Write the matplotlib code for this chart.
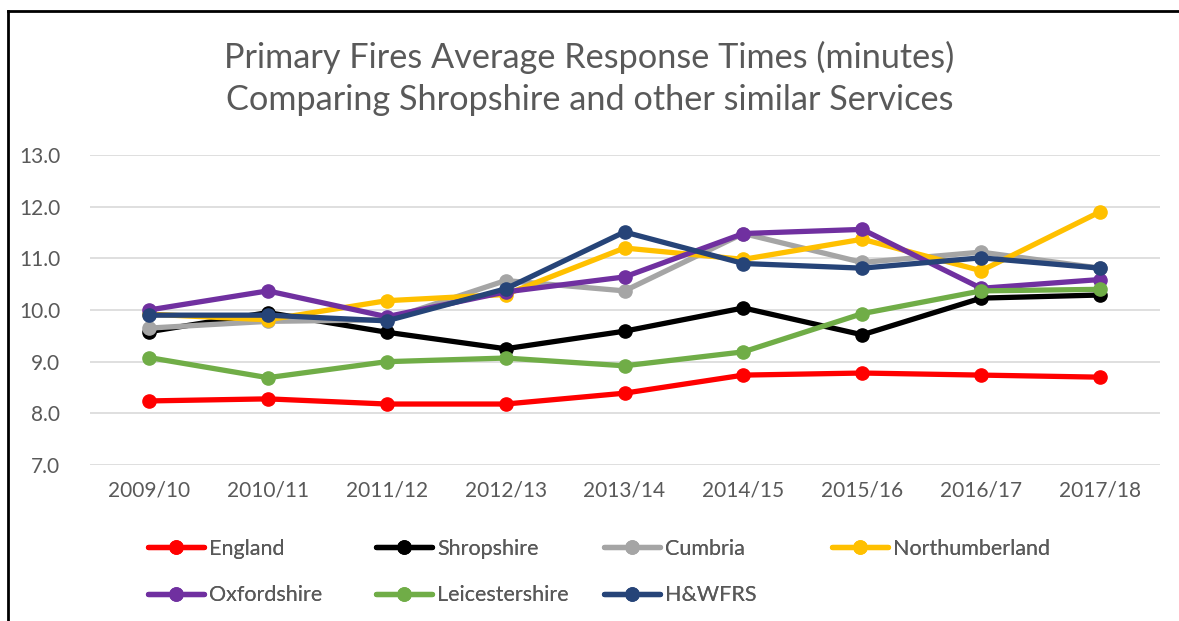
"""
Primary Fires Average Response Times - Shropshire vs similar Services
"""

import matplotlib.pyplot as plt
from matplotlib.lines import Line2D

plt.rcParams['font.family'] = ['Lato', 'DejaVu Sans']

# Data
years = ['2009/10', '2010/11', '2011/12', '2012/13', '2013/14',
         '2014/15', '2015/16', '2016/17', '2017/18']

england = [8.24, 8.28, 8.18, 8.18, 8.39, 8.74, 8.78, 8.74, 8.70]
shropshire = [9.58, 9.95, 9.57, 9.25, 9.59, 10.04, 9.52, 10.23, 10.29]
cumbria = [9.65, 9.78, 9.81, 10.57, 10.37, 11.48, 10.92, 11.12, 10.81]
northumberland = [9.92, 9.81, 10.18, 10.30, 11.20, 10.98, 11.37, 10.76, 11.90]
oxfordshire = [10.00, 10.37, 9.87, 10.35, 10.64, 11.48, 11.56, 10.42, 10.59]
leicestershire = [9.08, 8.69, 9.00, 9.07, 8.92, 9.19, 9.93, 10.37, 10.40]
hwfrs = [9.90, 9.90, 9.79, 10.41, 11.51, 10.90, 10.81, 11.01, 10.81]

series_names = ['England', 'Shropshire', 'Cumbria', 'Northumberland',
                'Oxfordshire', 'Leicestershire', 'H&WFRS']
series_values = [england, shropshire, cumbria, northumberland,
                 oxfordshire, leicestershire, hwfrs]
series_colors = ['#FF0000', '#000000', '#A5A5A5', '#FFC000',
                 '#7030A0', '#70AD47', '#264478']

TEXT = '#595959'

fig = plt.figure(figsize=(11.79, 6.21), dpi=100)
ax = fig.add_axes([89.5 / 1179, 156 / 621, 1070 / 1179, 310 / 621])

x = list(range(len(years)))
handles = []
for name, vals, col in zip(series_names, series_values, series_colors):
    h, = ax.plot(x, vals, color=col, lw=3.8, marker='o', markersize=9.5,
                 solid_capstyle='round', label=name)
    handles.append(h)

ax.set_xlim(-0.5, len(years) - 0.5)
ax.set_ylim(7.0, 13.0)
ax.set_yticks([7, 8, 9, 10, 11, 12, 13])
ax.set_yticklabels([f'{v:.1f}' for v in [7, 8, 9, 10, 11, 12, 13]])
ax.set_xticks(x)
ax.set_xticklabels(years)
ax.tick_params(length=0, labelsize=15, colors=TEXT, pad=11)
ax.tick_params(axis='y', pad=21)
ax.grid(axis='y', color='#D9D9D9', lw=1.2)
ax.set_axisbelow(True)
for s in ax.spines.values():
    s.set_visible(False)

fig.text(0.5, 1 - 57 / 621, 'Primary Fires Average Response Times (minutes)',
         ha='center', va='center', fontsize=24.7, color=TEXT)
fig.text(0.5, 1 - 100 / 621, 'Comparing Shropshire and other similar Services',
         ha='center', va='center', fontsize=24.7, color=TEXT)

# legend laid out in fixed-width columns like the original
col_x = [148, 376, 604, 832]
columns = [[0, 4], [1, 5], [2, 6], [3]]
for cx, idx in zip(col_x, columns):
    leg = fig.legend([handles[i] for i in idx], [series_names[i] for i in idx],
                     loc='upper left', bbox_to_anchor=(cx / 1179, 1 - 539 / 621),
                     frameon=False, fontsize=15.5, labelcolor=TEXT,
                     handlelength=2.6, handletextpad=0.25, labelspacing=1.22,
                     borderaxespad=0, borderpad=0)
    fig.add_artist(leg)

# outer frame (left and top edges visible)
fig.add_artist(Line2D([8 / 1179, 8 / 1179], [0, 1 - 11 / 621],
                      transform=fig.transFigure, color='black', lw=2))
fig.add_artist(Line2D([8 / 1179, 1], [1 - 11 / 621, 1 - 11 / 621],
                      transform=fig.transFigure, color='black', lw=2))

plt.savefig('out.png', dpi=100)
